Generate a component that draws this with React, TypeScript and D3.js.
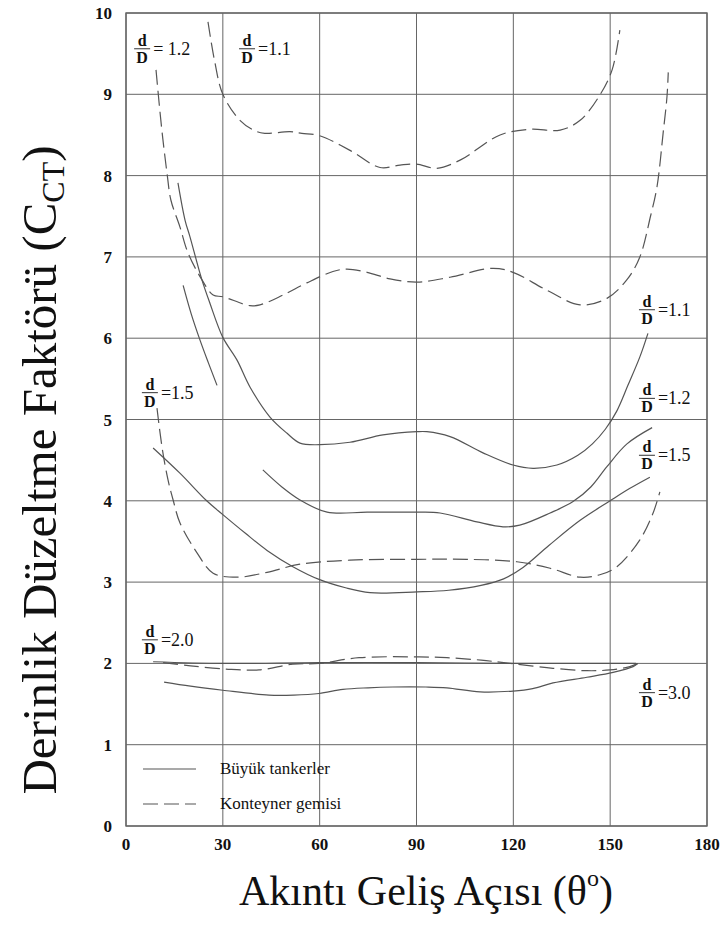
import React from "react";
import * as d3 from "d3";

// axis ticks
const xTicks = [0, 30, 60, 90, 120, 150, 180];
const yTicks = [0, 1, 2, 3, 4, 5, 6, 7, 8, 9, 10];

// Konteyner gemisi (dashed) curves, [angle, C_CT]
const cont11 = [
  [25.4, 9.89], [27.5, 9.4], [30, 9.0], [35.3, 8.68], [40, 8.55], [43, 8.52], [50.8, 8.54], [54.5, 8.52],
  [60, 8.49], [69.4, 8.31], [78.7, 8.1], [84.9, 8.13], [90, 8.14], [96.3, 8.09], [103.5, 8.19],
  [115.9, 8.5], [125.2, 8.57], [134.5, 8.56], [140.7, 8.68], [146.8, 8.99], [150.6, 9.3], [153, 9.79]
];
const cont12 = [
  [9.3, 9.3], [11, 8.6], [12.8, 8.0], [13.9, 7.7], [16.7, 7.37], [19.2, 7.05], [23.5, 6.72], [27, 6.53],
  [30, 6.51], [38.4, 6.4], [41.5, 6.41], [48.6, 6.53], [56, 6.68], [64.1, 6.82], [68.4, 6.85],
  [74.7, 6.81], [81.8, 6.73], [90.2, 6.69], [100.4, 6.75], [113.7, 6.86], [119.9, 6.81],
  [130.4, 6.59], [140.7, 6.41], [149, 6.49], [155.2, 6.72], [159.2, 7.0], [162.5, 7.5],
  [164.5, 7.86], [166.4, 8.52], [167.6, 8.97], [168, 9.27]
];
const cont15 = [
  [9.6, 5.14], [11.2, 4.65], [13, 4.26], [14.6, 4.01], [16.7, 3.73], [22, 3.36], [27, 3.11],
  [34.4, 3.06], [43.7, 3.12], [53.9, 3.22], [69.4, 3.27], [90.2, 3.28], [105.6, 3.28],
  [121.1, 3.25], [131.4, 3.17], [140.7, 3.06], [146.8, 3.09], [152.1, 3.19], [159.2, 3.52],
  [163.3, 3.85], [165.4, 4.11]
];
const cont20 = [
  [11.5, 2.01], [20, 1.97], [31, 1.93], [41.2, 1.92], [51.7, 1.99], [59.8, 2.0], [72.2, 2.07],
  [90.8, 2.08], [99.4, 2.07], [110, 2.04], [119, 2.0], [132.3, 1.94], [142.8, 1.91],
  [149.9, 1.92], [156.1, 1.96], [158.6, 2.0]
];

// Büyük tankerler (solid) curves
const tank11 = [
  [16.1, 7.91], [18.3, 7.45], [19.8, 7.25], [23.5, 6.72], [26, 6.43], [30, 6.01], [34.4, 5.73],
  [38.4, 5.4], [44.6, 5.03], [49.9, 4.83], [53.9, 4.71], [60, 4.69], [69.4, 4.72], [79.6, 4.81],
  [90.2, 4.85], [93.2, 4.85], [100.4, 4.79], [110.6, 4.59], [119.9, 4.44], [126.1, 4.4],
  [133.5, 4.44], [140, 4.56], [144.5, 4.7], [148.5, 4.88], [152, 5.1], [155.5, 5.42],
  [159.2, 5.77], [161.7, 6.06]
];
const tank12a = [[17.7, 6.65], [20.2, 6.3], [22.9, 5.98], [25.5, 5.7], [28.2, 5.42]];
const tank12b = [
  [42.4, 4.38], [48.3, 4.17], [53.9, 4.01], [62.3, 3.86], [74.7, 3.86], [90.2, 3.86], [97.3, 3.85],
  [108.7, 3.74], [116.8, 3.68], [122, 3.7], [131.4, 3.85], [138.5, 3.99], [144, 4.17],
  [149, 4.42], [155.2, 4.7], [163, 4.9]
];
const tank15 = [
  [8.4, 4.65], [16.7, 4.34], [25, 4.0], [30, 3.83], [37, 3.6], [43.7, 3.39], [51.7, 3.19],
  [60, 3.03], [68, 2.93], [75.6, 2.87], [90.2, 2.88], [100, 2.9], [110, 2.96], [117, 3.04],
  [123, 3.18], [131, 3.45], [140.7, 3.76], [150, 4.0], [156, 4.15], [162.3, 4.29]
];
const tank20 = [[8.4, 2.02], [30, 2.0], [60, 2.01], [90, 2.01], [120, 2.0], [150, 2.0], [158, 2.0]];
const tank30 = [
  [11.8, 1.77], [20, 1.72], [30, 1.67], [44.3, 1.61], [52, 1.61], [59.8, 1.63], [67.2, 1.68],
  [75, 1.7], [82.7, 1.71], [92.9, 1.71], [99.4, 1.7], [109.7, 1.65], [119.9, 1.66], [126, 1.69],
  [132.3, 1.76], [142.8, 1.83], [150.9, 1.89], [157.1, 1.96], [158.6, 2.0]
];

const dashedSeries = [cont11, cont12, cont15, cont20];
const solidSeries = [tank11, tank12a, tank12b, tank15, tank20, tank30];

// d/D labels: [angle, value at fraction bar, ratio text]
const ratioLabels = [
  [5.0, 9.56, "= 1.2"],
  [37.5, 9.56, "=1.1"],
  [161.4, 6.35, "=1.1"],
  [161.4, 5.26, "=1.2"],
  [161.4, 4.56, "=1.5"],
  [7.4, 5.33, "=1.5"],
  [7.4, 2.29, "=2.0"],
  [161.4, 1.64, "=3.0"]
];

const legendItems = [
  ["Büyük tankerler", false],
  ["Konteyner gemisi", true]
];

const FONT = "'Liberation Serif', 'Times New Roman', serif";
const INK = "#555";

export default function App() {
  const x = d3.scaleLinear().domain([0, 180]).range([126, 707]);
  const y = d3.scaleLinear().domain([0, 10]).range([826, 13]);
  const line = d3
    .line<number[]>()
    .x((d) => x(d[0]))
    .y((d) => y(d[1]))
    .curve(d3.curveCatmullRom.alpha(0.5));

  return (
    <svg
      width={722}
      height={930}
      style={{ position: "absolute", left: 0, top: 0, background: "#fff" }}
      fontFamily={FONT}
    >
      {/* grid */}
      {xTicks.map((t) => (
        <line key={"gx" + t} x1={x(t)} x2={x(t)} y1={y(0)} y2={y(10)} stroke="#666" strokeWidth={1} />
      ))}
      {yTicks.map((t) => (
        <line key={"gy" + t} x1={x(0)} x2={x(180)} y1={y(t)} y2={y(t)} stroke="#666" strokeWidth={1} />
      ))}
      <rect x={x(0)} y={y(10)} width={x(180) - x(0)} height={y(0) - y(10)} fill="none" stroke="#666" strokeWidth={1.4} />

      {/* tick labels */}
      {yTicks.map((t) => (
        <text key={"ty" + t} x={112} y={y(t) + 6} textAnchor="end" fontSize={17} fontWeight="bold" fill="#111">
          {t}
        </text>
      ))}
      {xTicks.map((t) => (
        <text key={"tx" + t} x={x(t)} y={850} textAnchor="middle" fontSize={17} fontWeight="bold" fill="#111">
          {t}
        </text>
      ))}

      {/* curves */}
      {solidSeries.map((s, i) => (
        <path key={"s" + i} d={line(s) || ""} fill="none" stroke={INK} strokeWidth={1.2} />
      ))}
      {dashedSeries.map((s, i) => (
        <path key={"d" + i} d={line(s) || ""} fill="none" stroke={INK} strokeWidth={1.2} strokeDasharray="15,6" />
      ))}

      {/* d/D labels */}
      {ratioLabels.map(([a, v, txt], i) => {
        const cx = x(a as number);
        const cy = y(v as number);
        return (
          <g key={"l" + i} fill="#111">
            <text x={cx} y={cy - 3} textAnchor="middle" fontSize={16} fontWeight="bold">d</text>
            <line x1={cx - 8} x2={cx + 8} y1={cy} y2={cy} stroke="#333" strokeWidth={1} />
            <text x={cx} y={cy + 14} textAnchor="middle" fontSize={16} fontWeight="bold">D</text>
            <text x={cx + 11} y={cy + 6} fontSize={18}>{txt}</text>
          </g>
        );
      })}

      {/* legend */}
      {legendItems.map(([label, dashed], i) => {
        const ly = 769 + i * 35;
        return (
          <g key={"lg" + i}>
            <line x1={143} x2={196} y1={ly} y2={ly} stroke={INK} strokeWidth={1.2} strokeDasharray={dashed ? "15,6" : undefined} />
            <text x={220} y={ly + 5} fontSize={17} fill="#111">{label as string}</text>
          </g>
        );
      })}

      {/* axis titles */}
      <text x={426} y={905} textAnchor="middle" fontSize={42} fill="#111">
        Akıntı Geliş Açısı  (θ
        <tspan fontSize={24} dy={-19}>o</tspan>
        <tspan dy={19}>)</tspan>
      </text>
      <text transform="translate(56,470) rotate(-90)" textAnchor="middle" fontSize={49} fill="#111">
        Derinlik Düzeltme Faktörü (C
        <tspan fontSize={32} dy={8}>CT</tspan>
        <tspan dy={-8}>)</tspan>
      </text>
    </svg>
  );
}
